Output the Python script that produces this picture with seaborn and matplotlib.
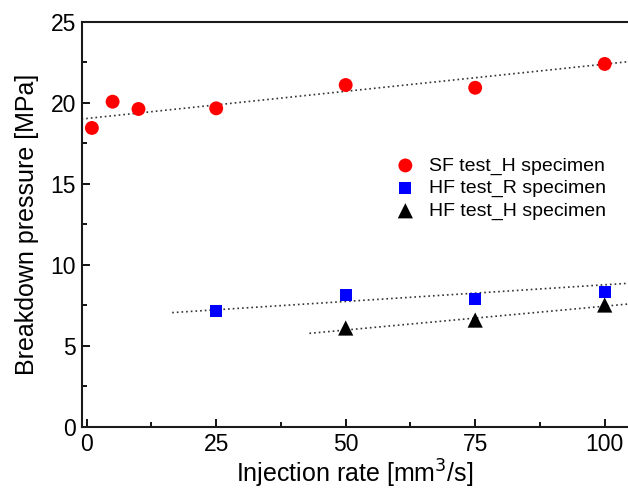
import numpy as np
import pandas as pd
import matplotlib
matplotlib.use("Agg")
import matplotlib.pyplot as plt
import seaborn as sns

# data
sf_rate = [1, 5, 10, 25, 50, 75, 100]
sf_pressure = [18.46, 20.08, 19.63, 19.67, 21.11, 20.94, 22.41]

hfr_rate = [25, 50, 75, 100]
hfr_pressure = [7.18, 8.13, 7.92, 8.35]

hfh_rate = [50, 75, 100]
hfh_pressure = [6.11, 6.6, 7.53]

# dotted trend lines (start / end)
sf_trend_x = [-1.0, 104.5]
sf_trend_y = [19.01, 22.55]
hfr_trend_x = [16.5, 104.5]
hfr_trend_y = [7.06, 8.87]
hfh_trend_x = [43.0, 104.5]
hfh_trend_y = [5.78, 7.59]

sns.set_style("ticks", {"text.color": "black", "axes.labelcolor": "black",
                        "xtick.color": "black", "ytick.color": "black",
                        "axes.edgecolor": "black"})
plt.rcParams["font.family"] = ["Liberation Sans", "DejaVu Sans"]

fig = plt.figure(figsize=(6.28, 4.9), dpi=100)
ax = fig.add_axes([0.1298, 0.1286, 1 - 0.1298, 0.8265])

for tx, ty in [(sf_trend_x, sf_trend_y), (hfr_trend_x, hfr_trend_y), (hfh_trend_x, hfh_trend_y)]:
    sns.lineplot(x=tx, y=ty, ax=ax, color="#333333", lw=1.2,
                 linestyle=(0, (1, 1.8)), zorder=2)

sns.scatterplot(x=sf_rate, y=sf_pressure, ax=ax, marker="o", color="#ff0000",
                s=100, edgecolor="none", label="SF test_H specimen", zorder=3)
sns.scatterplot(x=hfr_rate, y=hfr_pressure, ax=ax, marker="s", color="#0000ff",
                s=72, edgecolor="none", label="HF test_R specimen", zorder=3)
sns.scatterplot(x=hfh_rate, y=hfh_pressure, ax=ax, marker="^", color="black",
                s=120, edgecolor="none", label="HF test_H specimen", zorder=3)

ax.set_xlim(-1.0, 104.5)
ax.set_ylim(0, 25)
ax.set_xticks([0, 25, 50, 75, 100])
ax.set_xticks(np.arange(0, 105, 12.5), minor=True)
ax.set_yticks([0, 5, 10, 15, 20, 25])
ax.set_yticks(np.arange(0, 25.1, 2.5), minor=True)
ax.tick_params(which="both", direction="in", width=1.3, labelsize=16.5, pad=4,
               top=False, right=False, colors="black")
ax.tick_params(which="major", length=6)
ax.tick_params(which="minor", length=3.5)
for side in ["left", "bottom", "top"]:
    ax.spines[side].set_linewidth(1.5)
    ax.spines[side].set_color("#1a1a1a")
ax.spines["right"].set_visible(False)

ax.set_xlabel("Injection rate [mm$^3$/s]", fontsize=18, labelpad=1.5, color="black")
ax.set_ylabel("Breakdown pressure [MPa]", fontsize=18, labelpad=8, color="black")

leg = ax.legend(loc="upper left", bbox_to_anchor=(0.557, 0.686), frameon=False,
                fontsize=14, handletextpad=0.6, labelspacing=0.25,
                handlelength=1.2, borderaxespad=0)
for t in leg.get_texts():
    t.set_color("black")

fig.savefig("out.png", dpi=100)
